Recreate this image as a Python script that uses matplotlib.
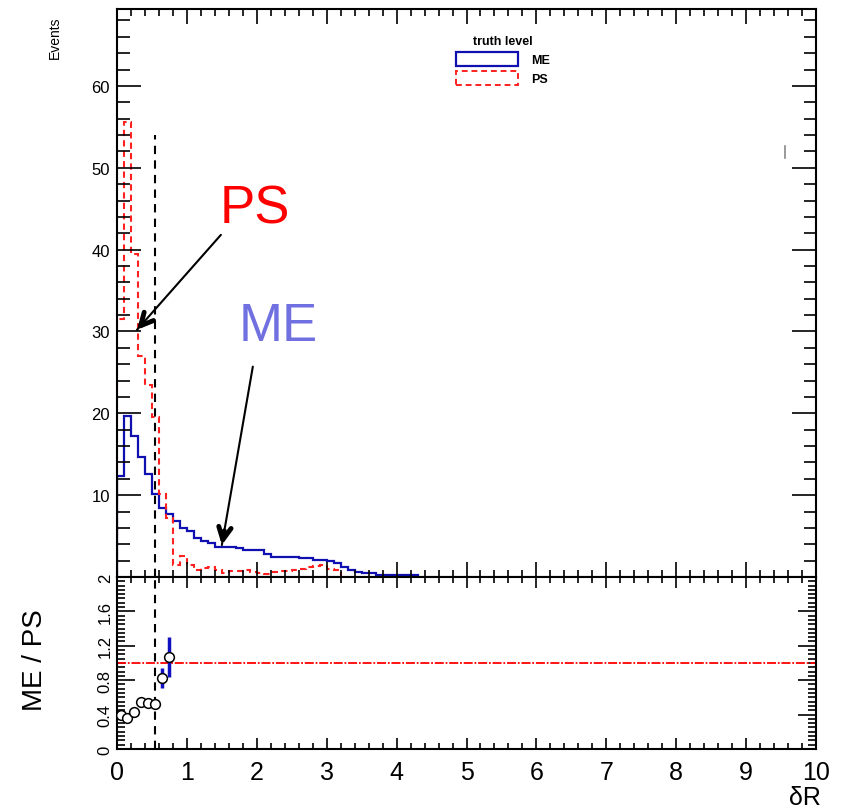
import numpy as np
import matplotlib.pyplot as plt
from matplotlib.patches import Patch
from matplotlib.ticker import MultipleLocator, FixedLocator

plt.rcParams['font.family'] = ['Liberation Sans', 'DejaVu Sans']

# dR distributions at truth level, bin width 0.1
bin_width = 0.1
me_counts = [12.3, 19.7, 17.2, 14.7, 12.6, 10.2, 8.4, 7.7, 6.8, 6.0,
             5.6, 4.8, 4.4, 4.2, 3.7, 3.7, 3.7, 3.5, 3.3, 3.3,
             3.3, 2.8, 2.5, 2.4, 2.5, 2.5, 2.3, 2.3, 2.1, 2.1,
             2.0, 1.7, 1.2, 0.9, 0.6, 0.5, 0.5, 0.3, 0.3, 0.3,
             0.3, 0.3, 0.3]
ps_counts = [31.5, 55.6, 39.5, 27.0, 23.5, 19.5, 10.2, 7.2, 1.5, 2.6,
             1.5, 0.8, 1.1, 1.2, 0.9, 0.5, 0.7, 0.7, 0.8, 0.6,
             0.5, 0.4, 0.6, 0.7, 0.7, 0.8, 1.0, 1.2, 1.4, 1.5,
             1.0, 0.9]
n_ratio = 8
ratio_err = [0.03, 0.02, 0.03, 0.04, 0.05, 0.05, 0.12, 0.23]
ratio_ticks = [0, 0.4, 0.8, 1.2, 1.6, 2.0]
ratio_labels = ['0', '0.4', '0.8', '1.2', '1.6', '2']
dr_cut = 0.54

me_edges = np.arange(len(me_counts) + 1) * bin_width
ps_edges = np.arange(len(ps_counts) + 1) * bin_width

fig = plt.figure(figsize=(8.43, 8.12), dpi=100)
ax = fig.add_axes([0.1388, 0.2882, 0.8292, 0.6995])
rx = fig.add_axes([0.1388, 0.0764, 0.8292, 0.2118])

# upper pad: histograms
ax.stairs(me_counts, me_edges, color='#1010b0', lw=1.6, fill=False)
ax.stairs(ps_counts, ps_edges, color='#ff2020', lw=1.5, linestyle=(0, (3, 2)))
ax.plot([dr_cut, dr_cut], [0, 54], color='black', lw=1.5, linestyle=(0, (4, 3)))
ax.plot([9.56, 9.56], [51.2, 52.6], color='#888888', lw=1.2)

ax.set_xlim(0, 10)
ax.set_ylim(0, 69.4)
ax.xaxis.set_major_locator(MultipleLocator(1))
ax.xaxis.set_minor_locator(MultipleLocator(0.2))
ax.set_yticks([10, 20, 30, 40, 50, 60])
ax.yaxis.set_minor_locator(MultipleLocator(2))
ax.tick_params(which='both', direction='in', top=True, right=True,
               labelbottom=False, width=1.2)
ax.tick_params(axis='x', which='major', length=11)
ax.tick_params(axis='x', which='minor', length=5)
ax.tick_params(axis='y', which='major', length=17, labelsize=12, pad=5)
ax.tick_params(axis='y', which='minor', length=9)
for s in ax.spines.values():
    s.set_linewidth(1.5)

handles = [Patch(facecolor='white', edgecolor='#1010b0', lw=1.6, label='ME'),
           Patch(facecolor='white', edgecolor='#ff2020', lw=1.4,
                 linestyle=(0, (3, 2)), label='PS')]
leg = ax.legend(handles=handles, loc='upper left', bbox_to_anchor=(0.476, 0.965),
                frameon=False, borderpad=0, fontsize=9, handlelength=5,
                handleheight=1.3, labelspacing=0.4, handletextpad=1.0,
                title='truth level',
                title_fontproperties={'weight': 'bold', 'size': 9})
for t in leg.get_texts():
    t.set_fontweight('bold')

# annotations with arrows
ax.text(1.97, 45, 'PS', color='red', fontsize=38, ha='center', va='center')
ax.text(2.3, 30.7, 'ME', color='#7070e0', fontsize=38, ha='center', va='center')
for tail, head in [((1.486, 41.8), (0.286, 30.2)), ((1.943, 25.7), (1.5, 3.9))]:
    ax.annotate('', xy=head, xytext=tail,
                arrowprops=dict(arrowstyle='-', color='black', lw=1.5,
                                shrinkA=0, shrinkB=0))
    vx, vy = tail[0] - head[0], tail[1] - head[1]
    near = (head[0] + 0.08 * vx, head[1] + 0.08 * vy)
    ax.annotate('', xy=head, xytext=near,
                arrowprops=dict(arrowstyle='->,head_length=0.9,head_width=0.45',
                                color='black', lw=3.5, shrinkA=0, shrinkB=0))

# lower pad: ME / PS ratio
centers = (np.arange(n_ratio) + 0.5) * bin_width
ratio = np.array(me_counts[:n_ratio]) / np.array(ps_counts[:n_ratio])
rx.axhline(1.0, color='red', lw=1.3, linestyle=(0, (5, 1, 1, 1)))
rx.plot([dr_cut, dr_cut], [0, 2], color='black', lw=1.5, linestyle=(0, (4, 3)))
rx.errorbar(centers, ratio, yerr=ratio_err, fmt='none', ecolor='#1010c0',
            elinewidth=2.5, capsize=0, zorder=3)
rx.plot(centers, ratio, 'o', mfc='white', mec='black', ms=7, mew=1.1, zorder=4)

rx.set_xlim(0, 10)
rx.set_ylim(0, 2)
rx.xaxis.set_major_locator(MultipleLocator(1))
rx.xaxis.set_minor_locator(MultipleLocator(0.2))
rx.yaxis.set_major_locator(FixedLocator(ratio_ticks))
rx.yaxis.set_minor_locator(MultipleLocator(0.05))
rx.set_yticklabels(ratio_labels, rotation=90, va='center', fontsize=12)
rx.tick_params(which='both', direction='in', top=True, right=True, width=1.2)
rx.tick_params(axis='x', which='major', length=8, labelsize=18, pad=8)
rx.tick_params(axis='x', which='minor', length=4)
rx.tick_params(axis='y', which='major', length=13, pad=3)
rx.tick_params(axis='y', which='minor', length=6)
for s in rx.spines.values():
    s.set_linewidth(1.5)

fig.text(0.065, 0.953, 'Events', rotation=90, ha='center', va='center', fontsize=10)
fig.text(0.0415, 0.187, 'ME / PS', rotation=90, ha='center', va='center', fontsize=20)
fig.text(0.955, 0.017, 'δR', ha='center', va='center', fontsize=18)

plt.savefig('out.png', dpi=100)
